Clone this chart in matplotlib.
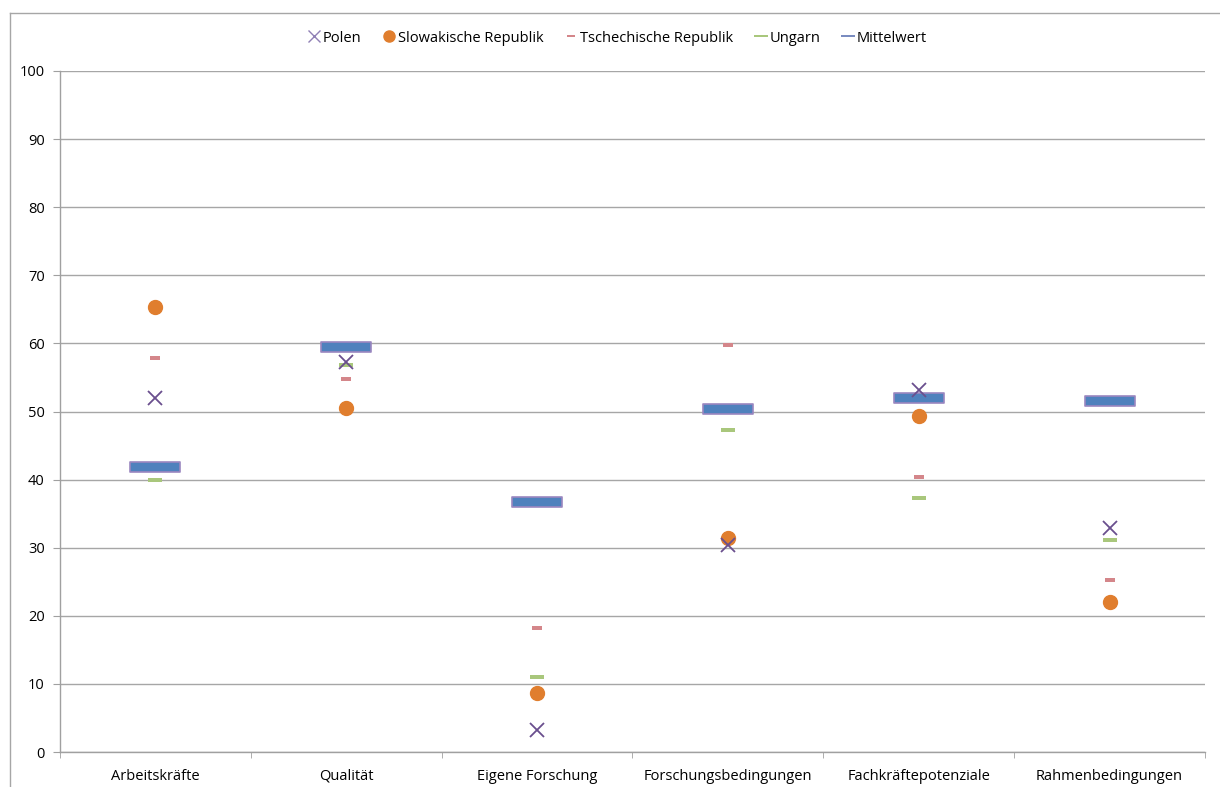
import matplotlib.pyplot as plt
import numpy as np
from matplotlib.lines import Line2D
from matplotlib.path import Path

plt.rcParams["font.family"] = ["Open Sans", "DejaVu Sans"]

categories = ["Arbeitskräfte", "Qualität", "Eigene Forschung",
              "Forschungsbedingungen", "Fachkräftepotenziale", "Rahmenbedingungen"]
polen = [52.0, 57.3, 3.2, 30.4, 53.2, 32.9]
slowakei = [65.3, 50.5, 8.7, 31.4, 49.3, 22.0]
tschechien = [57.9, 54.8, 18.2, 59.8, 40.4, 25.3]
ungarn = [39.9, 56.8, 11.0, 47.3, 37.3, 31.1]
mittelwert = [41.8, 59.5, 36.7, 50.4, 52.0, 51.5]


def rect_marker(w, h):
    return Path([(-w, -h), (w, -h), (w, h), (-w, h), (-w, -h)],
                [Path.MOVETO, Path.LINETO, Path.LINETO, Path.LINETO, Path.CLOSEPOLY])


fig = plt.figure(figsize=(12.2, 7.87), dpi=100)
ax = fig.add_axes([60 / 1220, 35 / 787, 1145 / 1220, 681 / 787])

x = np.arange(len(categories))
box = rect_marker(1.0, 0.21)
dash_cz = rect_marker(1.0, 0.4)
dash_hu = rect_marker(1.0, 0.28)

ax.plot(x, mittelwert, linestyle="none", marker=box, markersize=36,
        markerfacecolor="#4F81BD", markeredgecolor="#9B87C0", markeredgewidth=1.2,
        label="Mittelwert", zorder=3)
ax.plot(x, ungarn, linestyle="none", marker=dash_hu, markersize=10,
        color="#A9C77C", markeredgewidth=0, zorder=4)
ax.plot(x, tschechien, linestyle="none", marker=dash_cz, markersize=7,
        color="#D4868A", markeredgewidth=0, zorder=4)
ax.plot(x, slowakei, linestyle="none", marker="o", markersize=10,
        color="#E07E2E", zorder=5)
ax.plot(x, polen, linestyle="none", marker="x", markersize=10.5,
        markeredgewidth=1.3, color="#6A4F8E", zorder=6)

ax.set_xlim(-0.5, len(categories) - 0.5)
ax.set_ylim(0, 100)
ax.set_yticks(np.arange(0, 101, 10))
ax.set_xticks(x)
ax.set_xticklabels(categories)
ax.set_xticks(np.arange(-0.5, len(categories), 1.0), minor=True)
ax.tick_params(axis="x", which="major", length=0, pad=12, labelsize=10.5)
ax.tick_params(axis="x", which="minor", length=4, color="#A0A0A0", direction="out")
ax.tick_params(axis="y", length=5, color="#A0A0A0", labelsize=10.5, pad=6)
ax.grid(axis="y", color="#A6A6A6", linewidth=1.0)
ax.set_axisbelow(True)
for s in ("top", "right"):
    ax.spines[s].set_visible(False)
for s in ("left", "bottom"):
    ax.spines[s].set_color("#A0A0A0")
    ax.spines[s].set_linewidth(1.0)

handles = [
    Line2D([], [], linestyle="none", marker="x", color="#8F80B5", markersize=8, markeredgewidth=1.0),
    Line2D([], [], linestyle="none", marker="o", color="#E07E2E", markersize=8),
    Line2D([], [], linestyle="none", marker=rect_marker(1.0, 0.35), color="#D4868A", markersize=6, markeredgewidth=0),
    Line2D([], [], linestyle="none", marker=rect_marker(1.0, 0.2), color="#A9C77C", markersize=10, markeredgewidth=0),
    Line2D([], [], linestyle="none", marker=rect_marker(1.0, 0.2), color="#7A8CC0", markersize=10, markeredgewidth=0),
]
labels = ["Polen", "Slowakische Republik", "Tschechische Republik", "Ungarn", "Mittelwert"]
fig.legend(handles, labels, loc="center", bbox_to_anchor=(617 / 1220, 1 - 38 / 787),
           ncol=5, frameon=False, fontsize=10.5, handletextpad=0.1, columnspacing=1.4,
           handlelength=1.0)

# chart frame (top and left edges visible)
fig.add_artist(Line2D([10 / 1220, 10 / 1220], [0, 1 - 13 / 787], transform=fig.transFigure,
                      color="#A6A6A6", linewidth=1.0))
fig.add_artist(Line2D([10 / 1220, 1], [1 - 13 / 787, 1 - 13 / 787], transform=fig.transFigure,
                      color="#A6A6A6", linewidth=1.0))

fig.savefig("out.png", dpi=100)
